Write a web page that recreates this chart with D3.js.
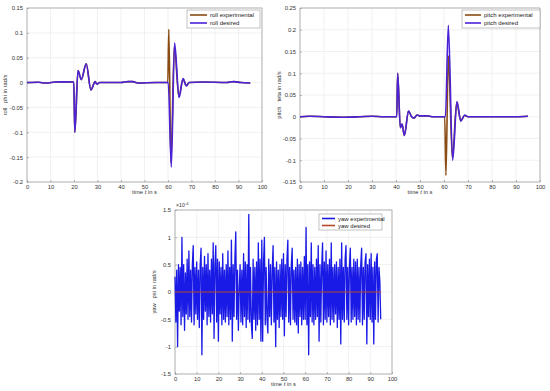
<!DOCTYPE html>
<html>
<head>
<meta charset="utf-8">
<script src="https://cdn.jsdelivr.net/npm/d3@7.9.0/dist/d3.min.js"></script>
<style>
  body { margin: 0; background: #fff; }
  svg { display: block; font-family: "Liberation Sans", Arial, sans-serif; }
  .tick text { fill: #333; }
</style>
</head>
<body>
<svg id="chart" width="550" height="391"></svg>
<script>
// ---- data ----
const xTicks = [0, 10, 20, 30, 40, 50, 60, 70, 80, 90, 100];

const rollTicks = [-0.2, -0.15, -0.1, -0.05, 0, 0.05, 0.1, 0.15];
const rollExperimental = [
  [0, 0], [5, 0.0005], [8, -0.001], [12, 0.001], [15, 0.0015], [19.9, 0.001],
  [20.35, -0.1], [21.7, 0.024], [23.1, 0.006], [25.2, 0.038], [27.2, -0.015],
  [29, 0.002], [29.7, -0.003], [31, 0], [40, 0], [43, 0.002], [45, 0.002], [47, -0.001],
  [55, 0], [59.9, 0], [60.35, 0.107], [61.25, -0.16], [62.7, 0.074], [64.6, -0.028],
  [66.4, 0.007], [67.8, -0.006], [69, 0], [75, 0.001], [85, 0], [88, 0.002], [91, 0], [95, -0.001]
];
const rollDesired = [
  [0, 0], [5, 0.0005], [8, -0.001], [12, 0.001], [15, 0.0015], [19.9, 0.001],
  [20.35, -0.1], [21.7, 0.024], [23.1, 0.006], [25.2, 0.038], [27.2, -0.015],
  [29, 0.002], [29.7, -0.003], [31, 0], [40, 0], [43, 0.002], [45, 0.002], [47, -0.001],
  [55, 0], [60.1, 0], [61.4, -0.17], [62.8, 0.08], [64.7, -0.03],
  [66.4, 0.008], [67.8, -0.007], [69, 0], [75, 0.001], [85, 0], [88, 0.002], [91, 0], [95, -0.001]
];

const pitchTicks = [-0.15, -0.1, -0.05, 0, 0.05, 0.1, 0.15, 0.2, 0.25];
const pitchExperimental = [
  [0, 0], [4, 0.001], [10, 0], [18, -0.001], [25, 0], [30, 0.001], [35, 0],
  [40.3, 0], [40.7, 0.1], [41.8, -0.025], [42.5, -0.017], [43.5, -0.043],
  [45.2, 0.013], [46.5, 0], [47.5, -0.003], [48.8, 0.004], [50, 0.002], [53, 0.002], [55, 0],
  [60.3, 0], [60.8, -0.135], [61.8, 0.14], [63.5, -0.095], [65.3, 0.033],
  [67, -0.009], [68.6, 0.003], [70, 0], [80, 0], [90, 0], [95, 0.001]
];
const pitchDesired = [
  [0, 0], [4, 0.001], [10, 0], [18, -0.001], [25, 0], [30, 0.001], [35, 0],
  [40.3, 0], [40.7, 0.1], [41.8, -0.025], [42.5, -0.017], [43.5, -0.043],
  [45.2, 0.013], [46.5, 0], [47.5, -0.003], [48.8, 0.004], [50, 0.002], [53, 0.002], [55, 0],
  [60.6, 0], [61.8, 0.21], [63.6, -0.1], [65.4, 0.035],
  [67, -0.01], [68.6, 0.004], [70, 0], [80, 0], [90, 0], [95, 0.001]
];

// yaw is sampled every 0.4 s, values in units of 1e-4 rad/s
const yawStep = 0.4;
const yawTicks = [-1.5, -1, -0.5, 0, 0.5, 1, 1.5];
const yawExperimental = [
  0.28, -0.55, 0.4, -1.0, 0.5, -0.35, 0.45, -0.6, 1.0, -0.45, 0.5, -0.7, 0.35, -0.4, 0.6, -0.5, 0.75, -0.45, 0.4, -0.55, 0.5, 0.85, -0.6, 0.45, -0.4,
  0.55, -0.5, 0.4, -0.65, 0.5, 0.8, -1.15, 0.45, -0.5, 0.65, -0.35, 0.5, -0.6, 0.7, -0.45, 0.4, -0.55, 0.6, -0.4, 0.9, -0.85, 0.5, 0.85, -0.55, 0.6,
  -0.9, 0.55, -0.4, 0.45, -0.6, 0.7, -0.5, 0.4, -0.55, 0.5, -0.45, 0.75, -0.6, 0.45, -0.5, 0.95, -0.9, 0.5, -0.45, 0.6, 1.1, -0.5, 0.4, -0.7, 0.05,
  0.5, -0.55, 0.4, -0.6, 0.7, -0.45, 0.55, -0.65, 0.5, -0.5, 1.42, -0.55, 0.45, -0.6, -0.85, 0.6, -0.5, 0.45, -0.7, 0.55, -0.6, 0.9, -0.5, 0.6, -0.9,
  0.95, -0.9, 0.55, 1.0, -0.6, 0.45, -0.5, -0.75, 0.6, -0.45, 0.5, -0.6, 0.4, 0.85, -0.55, 0.45, -1.0, 0.55, -0.5, 0.4, -0.65, 0.5, -0.45, 0.6, -0.5,
  0.7, -0.8, 0.5, -0.45, 0.6, 0.95, -0.55, 0.45, -0.6, 0.5, 0.8, -0.5, 0.4, -0.55, 0.45, -0.6, 0.6, -0.75, 0.5, -0.45, 0.55, -0.6, 0.45, -0.5, 0.65,
  -0.5, 1.18, -0.6, 0.5, -1.15, 0.55, -0.45, 0.9, -0.55, 0.5, -0.6, 0.45, -0.5, 0.6, -0.45, 0.85, -0.9, 0.5, -0.55, 0.45, 0.9, -0.6, 0.55, -0.5, 0.75,
  -0.55, 0.5, -0.45, 0.6, -0.6, 0.9, -0.5, 0.45, -0.55, 0.5, -0.4, 0.55, -0.65, 0.45, -0.5, 0.6, -0.95, 0.9, -0.5, 0.45, -0.55, 0.6, 0.85, -0.5, 0.45,
  -0.6, 0.5, 0.8, -0.55, 0.45, -0.5, 0.6, -0.45, 0.55, -0.6, 0.6, -0.5, 0.45, -0.55, 0.5, 0.8, -0.6, 0.45, -0.5, 0.55, 0.7, -0.95, 0.5, -0.45, 0.6,
  -0.5, 0.7, -0.55, 0.45, -0.95, 0.55, -0.5, 0.6, 0.7, -0.55, 0.45, 0.2, -0.5
];
const yawDesired = [[0, 0], [95, 0]];

// ---- drawing ----
const svg = d3.select("#chart");
const colExp = "#8a4b12";
const colDes = "#4a22d8";
const fmt = d => String(+d.toFixed(2));

function panel(cfg) {
  const x = d3.scaleLinear().domain([0, 100]).range([cfg.left, cfg.right]);
  const y = d3.scaleLinear().domain(cfg.yDomain).range([cfg.bottom, cfg.top]);
  const g = svg.append("g");

  // grid
  g.append("g").selectAll("line").data(xTicks).join("line")
    .attr("x1", d => x(d)).attr("x2", d => x(d))
    .attr("y1", cfg.top).attr("y2", cfg.bottom)
    .attr("stroke", "#e8e8e8").attr("stroke-width", 0.6);
  g.append("g").selectAll("line").data(cfg.yTicks).join("line")
    .attr("x1", cfg.left).attr("x2", cfg.right)
    .attr("y1", d => y(d)).attr("y2", d => y(d))
    .attr("stroke", "#e8e8e8").attr("stroke-width", 0.6);

  // axes (ticks inside like MATLAB)
  const xa = g.append("g").attr("transform", `translate(0,${cfg.bottom})`)
    .call(d3.axisBottom(x).tickValues(xTicks).tickSize(-2).tickPadding(4).tickFormat(d3.format("d")));
  const ya = g.append("g").attr("transform", `translate(${cfg.left},0)`)
    .call(d3.axisLeft(y).tickValues(cfg.yTicks).tickSize(-2).tickPadding(4).tickFormat(fmt));
  [xa, ya].forEach(a => {
    a.select(".domain").remove();
    a.selectAll(".tick line").attr("stroke", "#888").attr("stroke-width", 0.6);
    a.selectAll(".tick text").attr("font-size", 5.8).attr("font-family", "Liberation Sans, Arial, sans-serif");
  });
  xa.selectAll(".tick text").attr("dy", "0.5em");

  // box
  g.append("rect")
    .attr("x", cfg.left).attr("y", cfg.top)
    .attr("width", cfg.right - cfg.left).attr("height", cfg.bottom - cfg.top)
    .attr("fill", "none").attr("stroke", "#999").attr("stroke-width", 0.7);

  // series
  cfg.series.forEach(s => {
    const line = d3.line().x(d => x(d[0])).y(d => y(d[1])).curve(s.curve || d3.curveLinear);
    g.append("path").datum(s.data)
      .attr("fill", "none").attr("stroke", s.color)
      .attr("stroke-width", s.width).attr("stroke-linejoin", "round")
      .attr("d", line);
  });

  // labels
  const xl = g.append("text")
    .attr("x", (cfg.left + cfg.right) / 2).attr("y", cfg.bottom + 12)
    .attr("text-anchor", "middle").attr("font-size", 5.8).attr("fill", "#333");
  xl.append("tspan").text("time  ");
  xl.append("tspan").attr("font-style", "italic").text("t");
  xl.append("tspan").text(" in s");

  g.append("text")
    .attr("transform", `translate(${cfg.yLabelX},${(cfg.top + cfg.bottom) / 2}) rotate(-90)`)
    .attr("text-anchor", "middle").attr("font-size", 5.8).attr("fill", "#333")
    .attr("xml:space", "preserve")
    .text(cfg.yLabel);

  if (cfg.exponent) {
    const e = g.append("text").attr("x", cfg.left + 1).attr("y", cfg.top - 3)
      .attr("font-size", 5.2).attr("fill", "#333");
    e.append("tspan").text("×10");
    e.append("tspan").attr("dy", -2.5).attr("font-size", 4).text("-4");
  }

  // legend
  const L = cfg.legend;
  g.append("rect").attr("x", L.x).attr("y", L.y).attr("width", L.w).attr("height", L.h)
    .attr("fill", "#fff").attr("stroke", "#999").attr("stroke-width", 0.6);
  L.items.forEach((it, i) => {
    const yy = L.y + L.pad + i * L.row;
    g.append("line").attr("x1", L.x + 3).attr("x2", L.x + 3 + L.len)
      .attr("y1", yy).attr("y2", yy)
      .attr("stroke", it.color).attr("stroke-width", 1.6);
    g.append("text").attr("x", L.x + 6 + L.len).attr("y", yy).attr("dy", "0.35em")
      .attr("font-size", 6).attr("fill", "#222").text(it.label);
  });
}

panel({
  left: 27, right: 262, top: 8, bottom: 182,
  yDomain: [-0.2, 0.15], yTicks: rollTicks,
  yLabel: "roll   phi in rad/s", yLabelX: 7,
  series: [
    { data: rollExperimental, color: colExp, width: 1.6, curve: d3.curveMonotoneX },
    { data: rollDesired, color: colDes, width: 1.6, curve: d3.curveMonotoneX }
  ],
  legend: { x: 187, y: 10, w: 73, h: 18, pad: 5, row: 8, len: 17,
    items: [{ label: "roll experimental", color: colExp }, { label: "roll desired", color: colDes }] }
});

panel({
  left: 300, right: 540, top: 8, bottom: 182,
  yDomain: [-0.15, 0.25], yTicks: pitchTicks,
  yLabel: "pitch   teta in rad/s", yLabelX: 281,
  series: [
    { data: pitchExperimental, color: colExp, width: 1.6, curve: d3.curveMonotoneX },
    { data: pitchDesired, color: colDes, width: 1.6, curve: d3.curveMonotoneX }
  ],
  legend: { x: 462, y: 10, w: 78, h: 18, pad: 5, row: 8, len: 16,
    items: [{ label: "pitch experimental", color: colExp }, { label: "pitch desired", color: colDes }] }
});

panel({
  left: 175, right: 392, top: 210, bottom: 374,
  yDomain: [-1.5, 1.5], yTicks: yawTicks,
  yLabel: "yaw   psi in rad/s", yLabelX: 156, exponent: true,
  series: [
    { data: yawExperimental.map((v, i) => [i * yawStep, v]), color: "#1a1ae6", width: 1.3 },
    { data: yawDesired, color: "#b5482a", width: 1 }
  ],
  legend: { x: 319, y: 214, w: 63, h: 16, pad: 4.5, row: 7, len: 13,
    items: [{ label: "yaw experimental", color: "#1a1ae6" }, { label: "yaw desired", color: "#b5482a" }] }
});
</script>
</body>
</html>
